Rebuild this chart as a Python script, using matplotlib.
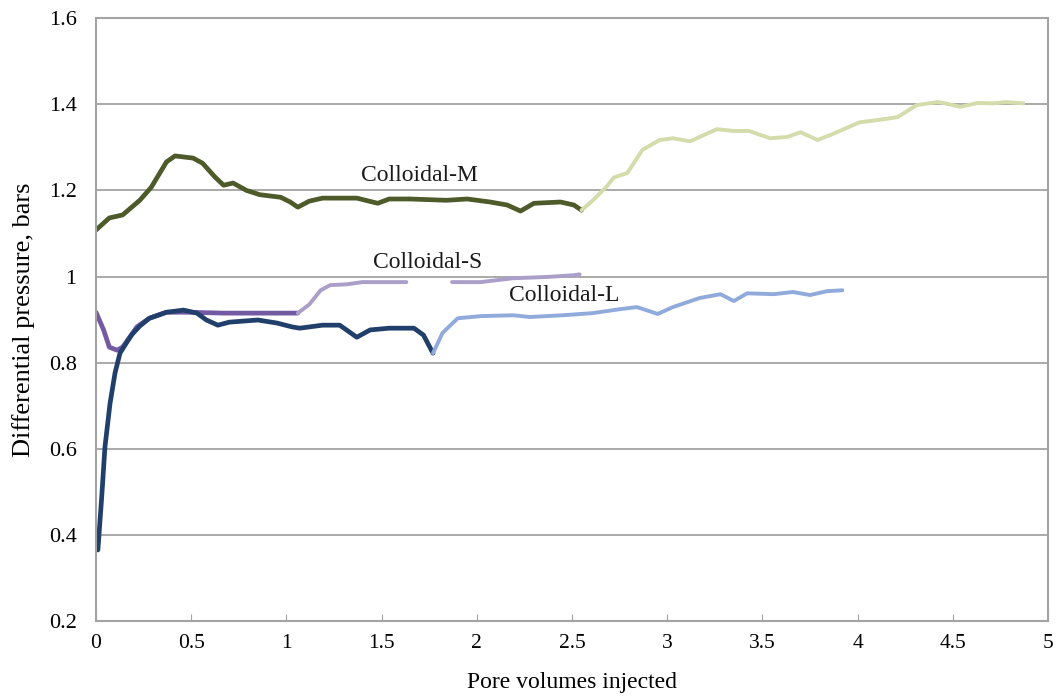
import matplotlib
matplotlib.use("Agg")
import matplotlib.pyplot as plt

# Colloidal-M: dark segment then light segment
m_dark_x = [0.0, 0.07, 0.14, 0.23, 0.29, 0.37, 0.415, 0.51, 0.56, 0.625, 0.67, 0.72, 0.79, 0.86, 0.97, 1.02,
            1.06, 1.12, 1.19, 1.37, 1.48, 1.54, 1.65, 1.84, 1.95, 2.07, 2.16, 2.23, 2.30, 2.44, 2.51, 2.55]
m_dark_y = [1.108, 1.136, 1.143, 1.177, 1.207, 1.266, 1.280, 1.275, 1.263, 1.231, 1.212, 1.217, 1.200, 1.190,
            1.184, 1.173, 1.161, 1.175, 1.182, 1.182, 1.170, 1.180, 1.180, 1.177, 1.180, 1.173, 1.166, 1.152,
            1.170, 1.173, 1.166, 1.154]
m_light_x = [2.55, 2.61, 2.68, 2.72, 2.79, 2.87, 2.96, 3.03, 3.12, 3.26, 3.35, 3.43, 3.54, 3.63, 3.70, 3.79,
             3.87, 4.01, 4.10, 4.21, 4.31, 4.42, 4.45, 4.54, 4.63, 4.71, 4.78, 4.87]
m_light_y = [1.154, 1.177, 1.208, 1.230, 1.240, 1.294, 1.317, 1.321, 1.314, 1.342, 1.338, 1.338, 1.321, 1.324,
             1.335, 1.317, 1.331, 1.358, 1.363, 1.370, 1.398, 1.405, 1.403, 1.394, 1.403, 1.402, 1.405, 1.402]

# Colloidal-S
s_dark_x = [0.0, 0.04, 0.07, 0.11, 0.14, 0.215, 0.28, 0.37, 0.49, 0.67, 0.85, 1.06]
s_dark_y = [0.917, 0.876, 0.836, 0.829, 0.836, 0.883, 0.903, 0.917, 0.917, 0.915, 0.915, 0.915]
s_light1_x = [1.06, 1.12, 1.18, 1.23, 1.32, 1.40, 1.49, 1.63]
s_light1_y = [0.915, 0.935, 0.968, 0.980, 0.982, 0.987, 0.987, 0.987]
s_light2_x = [1.87, 2.02, 2.19, 2.37, 2.51, 2.54]
s_light2_y = [0.987, 0.987, 0.996, 0.999, 1.003, 1.005]

# Colloidal-L
l_dark_x = [0.01, 0.03, 0.047, 0.074, 0.10, 0.126, 0.16, 0.19, 0.23, 0.28, 0.37, 0.46, 0.53, 0.58, 0.64, 0.70,
            0.85, 0.95, 1.03, 1.07, 1.19, 1.28, 1.37, 1.44, 1.54, 1.67, 1.72, 1.77]
l_dark_y = [0.365, 0.488, 0.604, 0.706, 0.776, 0.822, 0.846, 0.866, 0.885, 0.903, 0.917, 0.922, 0.915, 0.899,
            0.887, 0.894, 0.899, 0.892, 0.883, 0.880, 0.887, 0.887, 0.859, 0.876, 0.880, 0.880, 0.864, 0.822]
l_light_x = [1.77, 1.82, 1.90, 2.02, 2.19, 2.28, 2.45, 2.61, 2.75, 2.84, 2.89, 2.95, 3.03, 3.17, 3.28, 3.35,
             3.42, 3.56, 3.66, 3.75, 3.84, 3.92]
l_light_y = [0.822, 0.869, 0.903, 0.908, 0.910, 0.906, 0.910, 0.915, 0.924, 0.929, 0.922, 0.913, 0.929, 0.950,
             0.959, 0.943, 0.961, 0.959, 0.964, 0.957, 0.966, 0.968]

x_ticks = [0, 0.5, 1, 1.5, 2, 2.5, 3, 3.5, 4, 4.5, 5]
x_ticklabels = ["0", "0.5", "1", "1.5", "2", "2.5", "3", "3.5", "4", "4.5", "5"]
y_ticks = [0.2, 0.4, 0.6, 0.8, 1.0, 1.2, 1.4, 1.6]
y_ticklabels = ["0.2", "0.4", "0.6", "0.8", "1", "1.2", "1.4", "1.6"]

plt.rcParams["font.family"] = ["Liberation Serif", "DejaVu Serif"]

fig = plt.figure(figsize=(10.56, 6.97), dpi=100)
ax = fig.add_axes([0.0909, 0.109, 0.9015, 0.865])

grey = "#a3a3a3"
ax.set_xlim(0, 5)
ax.set_ylim(0.2, 1.6)
ax.set_yticks(y_ticks)
ax.set_yticklabels(y_ticklabels)
ax.set_xticks(x_ticks)
ax.set_xticklabels(x_ticklabels)
ax.yaxis.grid(True, color=grey, linewidth=1.3)
ax.set_axisbelow(True)
for sp in ax.spines.values():
    sp.set_color(grey)
    sp.set_linewidth(1.5)
ax.tick_params(axis="x", direction="in", length=5, color=grey, labelsize=15.5, pad=9)
ax.tick_params(axis="y", length=0, labelsize=16, pad=14)

style = dict(solid_capstyle="round", solid_joinstyle="round")
lw_dark = 3.4
lw_light = 2.8
ax.plot(m_dark_x, m_dark_y, color="#4d5a29", linewidth=lw_dark, **style)
ax.plot(m_light_x, m_light_y, color="#d3dcaa", linewidth=lw_light, **style)

ax.plot(s_dark_x, s_dark_y, color="#7459a3", linewidth=lw_dark, **style)
ax.plot(s_light1_x, s_light1_y, color="#ab9ec8", linewidth=lw_light, **style)
ax.plot(s_light2_x, s_light2_y, color="#ab9ec8", linewidth=lw_light, **style)

ax.plot(l_dark_x, l_dark_y, color="#213f6b", linewidth=lw_dark, **style)
ax.plot(l_light_x, l_light_y, color="#90abdb", linewidth=lw_light, **style)

ax.text(1.70, 1.235, "Colloidal-M", fontsize=17, ha="center", va="center", color="#1a1a1a")
ax.text(1.74, 1.033, "Colloidal-S", fontsize=17, ha="center", va="center", color="#1a1a1a")
ax.text(2.46, 0.955, "Colloidal-L", fontsize=17, ha="center", va="center", color="#1a1a1a")

ax.set_xlabel("Pore volumes injected", fontsize=17, labelpad=14)
ax.set_ylabel("Differential pressure, bars", fontsize=19, labelpad=10)

fig.savefig("out.png", dpi=100)
